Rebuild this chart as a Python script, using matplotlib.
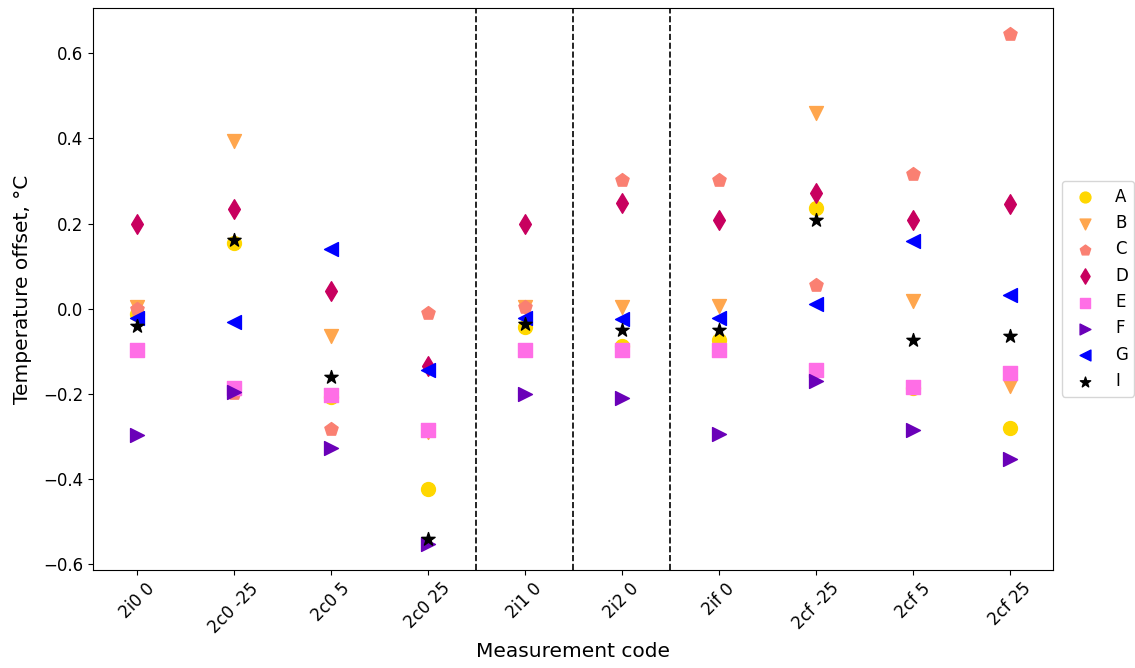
import matplotlib
matplotlib.use("Agg")
import matplotlib.pyplot as plt

# measurement codes on the x axis
codes = ["2i0 0", "2c0 -25", "2c0 5", "2c0 25", "2i1 0",
         "2i2 0", "2if 0", "2cf -25", "2cf 5", "2cf 25"]

# temperature offsets per sensor, one value per code
A = [-0.012, 0.155, -0.207, -0.424, -0.043, -0.088, -0.073, 0.237, -0.186, -0.28]
B = [0.005, 0.394, -0.063, -0.29, 0.005, 0.005, 0.007, 0.459, 0.017, -0.182]
C = [0.0, -0.198, -0.282, -0.01, 0.003, 0.302, 0.302, 0.055, 0.316, 0.646]
D = [0.2, 0.234, 0.042, -0.135, 0.2, 0.249, 0.209, 0.271, 0.209, 0.245]
E = [-0.098, -0.185, -0.203, -0.284, -0.098, -0.098, -0.098, -0.145, -0.184, -0.152]
F = [-0.296, -0.196, -0.328, -0.553, -0.2, -0.209, -0.293, -0.169, -0.284, -0.352]
G = [-0.022, -0.032, 0.14, -0.143, -0.022, -0.023, -0.022, 0.011, 0.16, 0.033]
I = [-0.04, 0.162, -0.161, -0.54, -0.037, -0.049, -0.049, 0.209, -0.073, -0.065]

series = [("A", A, "o", "#FFD700"),
          ("B", B, "v", "#FFA64D"),
          ("C", C, "p", "#FA8072"),
          ("D", D, "d", "#C8005F"),
          ("E", E, "s", "#FF6EE6"),
          ("F", F, ">", "#6A00B8"),
          ("G", G, "<", "#0000FF"),
          ("I", I, "*", "#000000")]

plt.rcParams["font.size"] = 12

fig = plt.figure(figsize=(11.35, 6.68), dpi=100)
ax = fig.add_axes([0.082, 0.147, 0.846, 0.841])

x = list(range(len(codes)))
for name, vals, mk, col in series:
    ax.scatter(x, vals, marker=mk, color=col, s=100, label=name)

# separators between the measurement groups
for xv in [3.5, 4.5, 5.5]:
    ax.axvline(xv, color="black", linestyle="--", linewidth=1.2)

ax.set_xticks(x)
ax.set_xticklabels(codes, rotation=45)
ax.set_xlabel("Measurement code", fontsize=14.5)
ax.set_ylabel("Temperature offset, °C", fontsize=14.5, labelpad=8)
ax.legend(loc="center left", bbox_to_anchor=(1.0, 0.5), markerscale=0.78)

fig.savefig("out.png", dpi=100)
